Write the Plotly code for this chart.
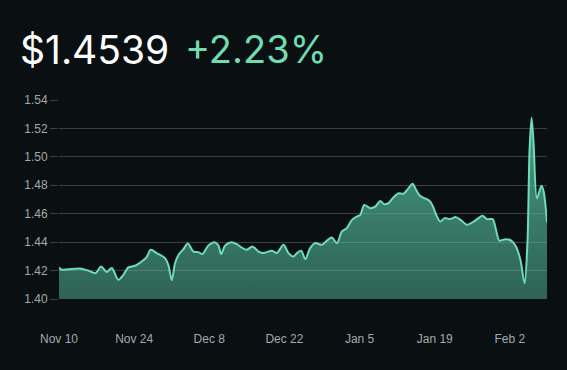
import plotly.graph_objects as go

dates = [
    "2024-11-10 00:00", "2024-11-10 12:00", "2024-11-11 18:00", "2024-11-13 22:00",
    "2024-11-15 10:00", "2024-11-16 20:00", "2024-11-17 20:00", "2024-11-18 21:00",
    "2024-11-19 20:00", "2024-11-21 01:00", "2024-11-22 00:00", "2024-11-22 22:00",
    "2024-11-24 04:00", "2024-11-25 10:00", "2024-11-26 08:00", "2024-11-27 02:00",
    "2024-11-28 05:00", "2024-11-29 18:00", "2024-11-30 09:00", "2024-12-01 00:00",
    "2024-12-01 15:00", "2024-12-02 06:00", "2024-12-03 04:00", "2024-12-04 00:00",
    "2024-12-05 01:00", "2024-12-05 23:00", "2024-12-06 17:00", "2024-12-07 20:00",
    "2024-12-08 23:00", "2024-12-09 17:00", "2024-12-10 05:00", "2024-12-10 23:00",
    "2024-12-12 02:00", "2024-12-13 03:00", "2024-12-14 01:00", "2024-12-15 00:00",
    "2024-12-16 01:00", "2024-12-17 04:00", "2024-12-18 02:00", "2024-12-19 16:00",
    "2024-12-20 14:00", "2024-12-21 20:00", "2024-12-22 18:00", "2024-12-23 16:00",
    "2024-12-24 08:00", "2024-12-25 03:00", "2024-12-25 21:00", "2024-12-26 19:00",
    "2024-12-27 17:00", "2024-12-28 23:00", "2024-12-29 22:00", "2024-12-30 20:00",
    "2024-12-31 19:00", "2025-01-01 17:00", "2025-01-02 15:00", "2025-01-03 14:00",
    "2025-01-04 12:00", "2025-01-05 03:00", "2025-01-05 21:00", "2025-01-06 23:00",
    "2025-01-07 22:00", "2025-01-08 20:00", "2025-01-09 14:00", "2025-01-10 09:00",
    "2025-01-11 08:00", "2025-01-12 06:00", "2025-01-13 04:00", "2025-01-14 03:00",
    "2025-01-14 21:00", "2025-01-15 13:00", "2025-01-16 07:00", "2025-01-17 13:00",
    "2025-01-18 04:00", "2025-01-18 19:00", "2025-01-19 10:00", "2025-01-20 01:00",
    "2025-01-20 20:00", "2025-01-21 21:00", "2025-01-22 23:00", "2025-01-23 23:00",
    "2025-01-25 00:00", "2025-01-26 06:00", "2025-01-27 04:00", "2025-01-27 22:00",
    "2025-01-28 18:00", "2025-01-29 19:00", "2025-01-30 10:00", "2025-01-31 01:00",
    "2025-02-01 04:00", "2025-02-02 06:00", "2025-02-03 03:00", "2025-02-03 23:00",
    "2025-02-04 18:00", "2025-02-05 07:00", "2025-02-05 16:00", "2025-02-06 01:00",
    "2025-02-06 10:00", "2025-02-07 01:00", "2025-02-07 21:00", "2025-02-08 07:00",
    "2025-02-08 22:00",
]

prices = [
    1.4222, 1.4206, 1.4210, 1.4215, 1.4200, 1.4182, 1.4229, 1.4190,
    1.4218, 1.4135, 1.4170, 1.4222, 1.4234, 1.4264, 1.4295, 1.4346,
    1.4323, 1.4288, 1.4240, 1.4132, 1.4253, 1.4310, 1.4350, 1.4390,
    1.4334, 1.4330, 1.4316, 1.4376, 1.4400, 1.4376, 1.4316, 1.4376,
    1.4400, 1.4386, 1.4362, 1.4346, 1.4370, 1.4334, 1.4323, 1.4340,
    1.4323, 1.4381, 1.4323, 1.4299, 1.4323, 1.4340, 1.4280, 1.4358,
    1.4393, 1.4381, 1.4411, 1.4432, 1.4393, 1.4475, 1.4499, 1.4557,
    1.4580, 1.4592, 1.4662, 1.4639, 1.4650, 1.4690, 1.4667, 1.4674,
    1.4716, 1.4744, 1.4740, 1.4780, 1.4810, 1.4767, 1.4725, 1.4702,
    1.4685, 1.4639, 1.4580, 1.4545, 1.4569, 1.4562, 1.4576, 1.4552,
    1.4522, 1.4545, 1.4569, 1.4585, 1.4562, 1.4562, 1.4487, 1.4411,
    1.4421, 1.4411, 1.4370, 1.4276, 1.4110, 1.4416, 1.5049, 1.5275,
    1.5096, 1.4709, 1.4796, 1.4756, 1.4539,
]

tick_dates = ["2024-11-10", "2024-11-24", "2024-12-08", "2024-12-22",
              "2025-01-05", "2025-01-19", "2025-02-02"]
tick_labels = ["Nov 10", "Nov 24", "Dec 8", "Dec 22", "Jan 5", "Jan 19", "Feb 2"]
y_ticks = [1.40, 1.42, 1.44, 1.46, 1.48, 1.50, 1.52, 1.54]

price_text = "$1.4539"
change_text = "+2.23%"

BG = "#0a0f12"
LINE = "#6fdcb6"
GRID = "#3a3f43"
LABEL = "#a3a9ad"

fig = go.Figure()
fig.add_trace(go.Scatter(
    x=dates, y=prices, mode="lines",
    line=dict(color=LINE, width=2, shape="spline", smoothing=0.8),
    fill="tozeroy",
    fillgradient=dict(type="vertical", start=1.40, stop=1.53,
                      colorscale=[[0, "rgba(90,200,165,0.45)"],
                                  [1, "rgba(90,200,165,0.76)"]]),
    hoverinfo="skip",
))

fig.add_annotation(text=price_text, xref="paper", yref="paper",
                   x=-0.084, y=1.256, xanchor="left", yanchor="middle",
                   showarrow=False,
                   font=dict(family="Inter", size=39, color="#ffffff"))
fig.add_annotation(text=change_text, xref="paper", yref="paper",
                   x=0.255, y=1.256, xanchor="left", yanchor="middle",
                   showarrow=False,
                   font=dict(family="Inter", size=38, color="#6fdcb4"))

fig.update_layout(
    width=567, height=370,
    margin=dict(l=59, r=20, t=100, b=71),
    paper_bgcolor=BG, plot_bgcolor=BG,
    showlegend=False,
    xaxis=dict(
        range=[dates[0], dates[-1]],
        tickvals=tick_dates, ticktext=tick_labels,
        showgrid=False, zeroline=False, showline=False,
        ticks="outside", ticklen=29, tickcolor=BG,
        tickfont=dict(family="Liberation Sans, Arial", size=12, color=LABEL),
    ),
    yaxis=dict(
        range=[1.40, 1.54],
        tickvals=y_ticks, tickformat=".2f",
        showgrid=True, gridcolor=GRID, gridwidth=1,
        zeroline=False, showline=False,
        ticks="outside", ticklen=8, tickcolor=GRID,
        tickfont=dict(family="Liberation Sans, Arial", size=12, color=LABEL),
    ),
)

fig.write_html(
    "out.html",
    config={"displayModeBar": False},
    post_script="document.body.style.margin='0';document.body.style.background='#0a0f12';",
)
